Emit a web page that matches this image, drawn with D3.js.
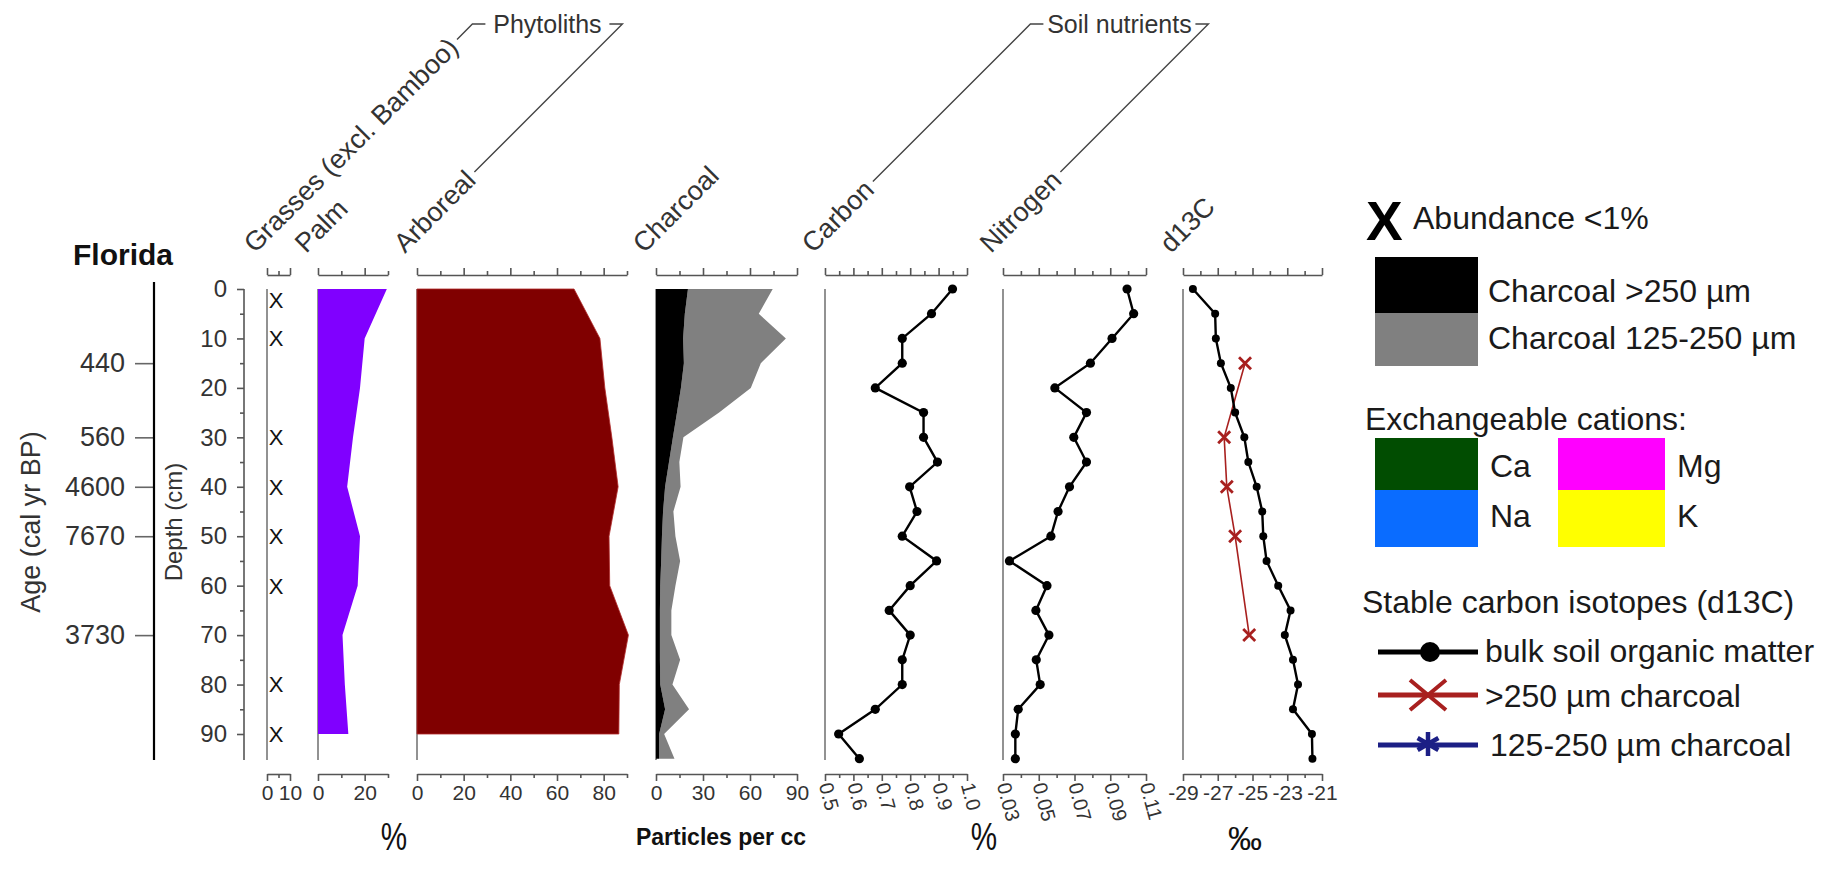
<!DOCTYPE html>
<html><head><meta charset="utf-8">
<script src="https://cdn.jsdelivr.net/npm/d3@7"></script>
<style>
body{margin:0;background:#fff}
svg{display:block;font-family:"Liberation Sans",Arial,Helvetica,sans-serif}
</style>
</head><body>
<script>
// ---------------- DATA ----------------
const sampleDepths = [0,5,10,15,20,25,30,35,40,45,50,55,60,65,70,75,80,85,90,95];
const phytoDepths  = [0,10,20,30,40,50,60,70,80,90];
const palmPct      = [29.5,20,18,15,12.5,18,17,10.5,11.5,13];
const arborealPct  = [67.3,78.4,80.5,83.5,86.2,82.3,82.6,90.6,86.7,86.5];
const grassTraceDepths = [0,10,30,40,50,60,80,90];
const charcoalLarge = [20.4,18.4,17.3,17.8,15.9,13.4,10.8,8.3,5.8,4.5,3.8,3.3,2.7,2.5,2.5,2.5,2.7,5.8,2.0,2.0];
const charcoalSmall = [54.1,47.2,65.6,49.1,44.6,26.9,6.7,6.6,9.9,6.6,8.6,12.1,9.7,7.3,7.3,12.9,7.8,15.3,3.2,9.8];
const carbonPct   = [0.949,0.875,0.772,0.772,0.677,0.847,0.847,0.896,0.798,0.824,0.772,0.893,0.800,0.726,0.800,0.772,0.772,0.677,0.548,0.621];
const nitrogenPct = [0.0994,0.1031,0.0910,0.0789,0.0590,0.0767,0.0696,0.0767,0.0672,0.0608,0.0568,0.0336,0.0546,0.0484,0.0557,0.0486,0.0508,0.0385,0.0369,0.0369];
const d13cBulk    = [-28.43,-27.15,-27.11,-26.82,-26.25,-26.00,-25.47,-25.24,-24.76,-24.44,-24.38,-24.19,-23.52,-22.81,-23.14,-22.67,-22.38,-22.67,-21.58,-21.55];
const d13cCharDepths = [15,30,40,50,70];
const d13cChar       = [-25.43,-26.63,-26.48,-26.00,-25.19];
const ageDepths = [15,30,40,50,70];
const ageLabels = ["440","560","4600","7670","3730"];
const depthTicks = [0,10,20,30,40,50,60,70,80,90];
const depthMinor = [5,15,25,35,45,55,65,75,85];
const panelTitles = ["Grasses (excl. Bamboo)","Palm","Arboreal","Charcoal","Carbon","Nitrogen","d13C"];

// ---------------- LAYOUT ----------------
const W = 1843, H = 869;
const TOP_Y = 275, BOT_Y = 774, PLOT_BOT = 760;
const svg = d3.select("body").append("svg").attr("width", W).attr("height", H);
const Y = d3.scaleLinear().domain([0, 90]).range([289, 734]);

const P = {
  grass:    {x: d3.scaleLinear().domain([0,10]).range([267,290]),  minor:[5], major:[0,10], fmt:d=>d},
  palm:     {x: d3.scaleLinear().domain([0,30]).range([318,388]),  minor:[10,30], major:[0,20], fmt:d=>d},
  arboreal: {x: d3.scaleLinear().domain([0,90]).range([417,627]),  minor:[10,30,50,70,90], major:[0,20,40,60,80], fmt:d=>d},
  charcoal: {x: d3.scaleLinear().domain([0,90]).range([656,797]),  minor:[15,45,75], major:[0,30,60,90], fmt:d=>d},
  carbon:   {x: d3.scaleLinear().domain([0.5,1.0]).range([825,967]), minor:[0.55,0.65,0.75,0.85,0.95], major:[0.5,0.6,0.7,0.8,0.9,1.0], fmt:d3.format(".1f"), rot:true},
  nitrogen: {x: d3.scaleLinear().domain([0.03,0.11]).range([1003,1146]), minor:[0.04,0.06,0.08,0.10], major:[0.03,0.05,0.07,0.09,0.11], fmt:d3.format(".2f"), rot:true},
  d13c:     {x: d3.scaleLinear().domain([-29,-21]).range([1183,1322]), minor:[-28,-26,-24,-22], major:[-29,-27,-25,-23,-21], fmt:d=>d}
};
const order = ["grass","palm","arboreal","charcoal","carbon","nitrogen","d13c"];
const AXC = "#555", TXC = "#333";

// ---------------- AXES per panel ----------------
order.forEach(k => {
  const p = P[k];
  const gt = svg.append("g").attr("transform", `translate(0,${TOP_Y})`);
  gt.call(d3.axisTop(p.x).tickValues(p.minor).tickSize(4).tickSizeOuter(0).tickFormat(""));
  const gt2 = svg.append("g").attr("transform", `translate(0,${TOP_Y})`);
  gt2.call(d3.axisTop(p.x).tickValues(p.major).tickSize(7).tickSizeOuter(0).tickFormat(""));
  gt2.select(".domain").remove();
  const gb = svg.append("g").attr("transform", `translate(0,${BOT_Y})`);
  gb.call(d3.axisBottom(p.x).tickValues(p.minor).tickSize(4).tickSizeOuter(0).tickFormat(""));
  const gb2 = svg.append("g").attr("transform", `translate(0,${BOT_Y})`);
  gb2.call(d3.axisBottom(p.x).tickValues(p.major).tickSize(7).tickSizeOuter(0).tickFormat(p.fmt).tickPadding(4));
  gb2.select(".domain").remove();
  [gt,gt2,gb,gb2].forEach(g => g.selectAll("path,line").attr("stroke", AXC).attr("stroke-width", 1.6));
  gb2.selectAll("text").attr("fill", TXC).attr("font-size", 21).attr("font-family", null);
  if (p.rot) {
    gb2.selectAll("text").attr("x", 0).attr("y", 0).attr("dy", "0.35em")
      .attr("text-anchor", "start").attr("font-size", 20)
      .attr("transform", "translate(0,9) rotate(75)");
  }
  svg.append("line").attr("x1", p.x.range()[0]).attr("x2", p.x.range()[0])
    .attr("y1", Y(0)).attr("y2", PLOT_BOT).attr("stroke", "#777").attr("stroke-width", 1.6);
});

// ---------------- PHYTOLITHS ----------------
const palmData = phytoDepths.map((d,i)=>({d, v: palmPct[i]}));
svg.append("path").datum(palmData).attr("fill", "#8000ff")
  .attr("d", d3.area().y(d=>Y(d.d)).x0(P.palm.x(0)).x1(d=>P.palm.x(d.v)));
const arbData = phytoDepths.map((d,i)=>({d, v: arborealPct[i]}));
svg.append("path").datum(arbData).attr("fill", "#800000").attr("stroke","#b02a2a").attr("stroke-width",0.8)
  .attr("d", d3.area().y(d=>Y(d.d)).x0(P.arboreal.x(0)).x1(d=>P.arboreal.x(d.v)));
svg.append("g").selectAll("text").data(grassTraceDepths).join("text")
  .attr("x", P.grass.x(0) + 9).attr("y", d => Math.max(Y(d), Y(0) + 11))
  .attr("dy", "0.36em").attr("text-anchor", "middle").attr("font-size", 22).attr("fill", "#111")
  .text("X");

// ---------------- CHARCOAL (stacked) ----------------
const charRows = sampleDepths.map((d,i)=>({depth:d, large: charcoalLarge[i], small: charcoalSmall[i]}));
const stack = d3.stack().keys(["large","small"])(charRows);
const charColors = {large:"#000000", small:"#808080"};
stack.slice().reverse().forEach(s => {
  svg.append("path").datum(s).attr("fill", charColors[s.key])
    .attr("d", d3.area().y(d=>Y(d.data.depth)).x0(d=>P.charcoal.x(d[0])).x1(d=>P.charcoal.x(d[1])));
});

// ---------------- LINE PANELS ----------------
function linePanel(scale, depths, vals, color, r, sw) {
  const data = depths.map((d,i)=>({d, v: vals[i]}));
  svg.append("path").datum(data).attr("fill","none").attr("stroke", color).attr("stroke-width", sw)
    .attr("d", d3.line().x(d=>scale(d.v)).y(d=>Y(d.d)));
  svg.append("g").selectAll("circle").data(data).join("circle")
    .attr("cx", d=>scale(d.v)).attr("cy", d=>Y(d.d)).attr("r", r).attr("fill", color);
}
linePanel(P.carbon.x, sampleDepths, carbonPct, "#000", 4.6, 2.4);
linePanel(P.nitrogen.x, sampleDepths, nitrogenPct, "#000", 4.6, 2.4);

const RED = "#a8201f";
const charIso = d13cCharDepths.map((d,i)=>({d, v: d13cChar[i]}));
svg.append("path").datum(charIso).attr("fill","none").attr("stroke", RED).attr("stroke-width", 1.6)
  .attr("d", d3.line().x(d=>P.d13c.x(d.v)).y(d=>Y(d.d)));
svg.append("g").selectAll("path").data(charIso).join("path")
  .attr("transform", d=>`translate(${P.d13c.x(d.v)},${Y(d.d)})`)
  .attr("d", "M-6,-6L6,6M-6,6L6,-6").attr("stroke", RED).attr("stroke-width", 2.8);
linePanel(P.d13c.x, sampleDepths, d13cBulk, "#000", 4, 2.4);

// ---------------- DEPTH & AGE AXES ----------------
const gd = svg.append("g").attr("transform", "translate(244,0)");
gd.call(d3.axisLeft(Y).tickValues(depthTicks).tickSize(7).tickPadding(10));
gd.select(".domain").remove();
gd.selectAll("text").attr("font-size", 24).attr("fill", TXC).attr("font-family", null);
gd.selectAll("line").attr("stroke", AXC).attr("stroke-width", 1.6);
const gdm = svg.append("g").attr("transform", "translate(244,0)");
gdm.call(d3.axisLeft(Y).tickValues(depthMinor).tickSize(4).tickFormat(""));
gdm.select(".domain").remove();
gdm.selectAll("line").attr("stroke", AXC).attr("stroke-width", 1.6);
svg.append("line").attr("x1",244).attr("x2",244).attr("y1",Y(0)).attr("y2",PLOT_BOT)
  .attr("stroke", AXC).attr("stroke-width", 1.6);

const ga = svg.append("g").attr("transform", "translate(154,0)");
ga.call(d3.axisLeft(Y).tickValues(ageDepths).tickFormat((d,i)=>ageLabels[i]).tickSize(19).tickPadding(10));
ga.select(".domain").remove();
ga.selectAll("line").attr("stroke", "#666").attr("stroke-width", 1.6);
ga.selectAll("text").attr("font-size", 27).attr("fill", TXC).attr("font-family", null);
svg.append("line").attr("x1",154).attr("x2",154).attr("y1",282).attr("y2",PLOT_BOT)
  .attr("stroke","#000").attr("stroke-width",2.2);

svg.append("text").attr("transform","translate(40,522) rotate(-90)").attr("text-anchor","middle")
  .attr("font-size",27).attr("fill",TXC).text("Age (cal yr BP)");
svg.append("text").attr("transform","translate(182,522) rotate(-90)").attr("text-anchor","middle")
  .attr("font-size",24).attr("fill",TXC).text("Depth (cm)");
svg.append("text").attr("x",73).attr("y",265).attr("font-size",30).attr("font-weight","bold")
  .attr("fill","#111").text("Florida");

// ---------------- PANEL TITLES + GROUP LEADERS ----------------
const TFS = 27;
const u = [Math.SQRT1_2, -Math.SQRT1_2], up = [-Math.SQRT1_2, -Math.SQRT1_2];
const titleInfo = {};
order.forEach((k,i) => {
  const ax = P[k].x.range()[0] - 12, ay = 254;
  const t = svg.append("text").attr("transform", `translate(${ax},${ay}) rotate(-45)`)
    .attr("font-size", TFS).attr("fill", TXC).text(panelTitles[i]);
  const len = t.node().getComputedTextLength();
  titleInfo[k] = {
    ex: ax + (len + 5) * u[0] + 0.33 * TFS * up[0],
    ey: ay + (len + 5) * u[1] + 0.33 * TFS * up[1]
  };
});
const LEAD_Y = 24;
function leader(k, dir) {
  const s = titleInfo[k];
  const tx = s.ex + (s.ey - LEAD_Y);
  const pts = [[s.ex, s.ey], [tx, LEAD_Y], [tx + dir * 13, LEAD_Y]];
  svg.append("path").attr("d", d3.line()(pts)).attr("fill","none").attr("stroke","#444").attr("stroke-width",1.4);
  return tx;
}
const gl = leader("grass", 1), gr = leader("arboreal", -1);
svg.append("text").attr("x", (gl + gr) / 2).attr("y", 33).attr("text-anchor","middle")
  .attr("font-size", 25).attr("fill", TXC).text("Phytoliths");
const sl = leader("carbon", 1), sr = leader("nitrogen", -1);
svg.append("text").attr("x", (sl + sr) / 2).attr("y", 33).attr("text-anchor","middle")
  .attr("font-size", 25).attr("fill", TXC).text("Soil nutrients");

// ---------------- UNIT LABELS ----------------
function unit(x, y, txt, sx, fs) {
  svg.append("text").attr("transform", `translate(${x},${y}) scale(${sx},1)`).attr("text-anchor","middle")
    .attr("font-size",fs).attr("fill","#111").text(txt);
}
unit(394, 850, "%", 0.78, 38);
unit(984, 850, "%", 0.78, 38);
unit(1245, 850, "‰", 1.0, 34);
svg.append("text").attr("x",721).attr("y",845).attr("text-anchor","middle").attr("font-size",23)
  .attr("font-weight","bold").attr("fill","#111").text("Particles per cc");

// ---------------- LEGEND ----------------
const LFS = 32, LC = "#1a1a1a";
const L = svg.append("g");
L.append("text").attr("x",1366).attr("y",240).attr("font-size",55).attr("font-weight","bold").attr("fill","#000").text("X");
L.append("text").attr("x",1413).attr("y",229).attr("font-size",LFS).attr("fill",LC).text("Abundance <1%");
const boxes = [
  {x:1375,y:257,w:103,h:56,c:"#000000",label:"Charcoal >250 µm",lx:1488,ly:302},
  {x:1375,y:313,w:103,h:53,c:"#808080",label:"Charcoal 125-250 µm",lx:1488,ly:349},
  {x:1375,y:438,w:103,h:52,c:"#014d01",label:"Ca",lx:1490,ly:477},
  {x:1375,y:490,w:103,h:57,c:"#0a6cff",label:"Na",lx:1490,ly:527},
  {x:1558,y:438,w:107,h:52,c:"#ff00ff",label:"Mg",lx:1677,ly:477},
  {x:1558,y:490,w:107,h:57,c:"#ffff00",label:"K",lx:1677,ly:527}
];
boxes.forEach(b => {
  L.append("rect").attr("x",b.x).attr("y",b.y).attr("width",b.w).attr("height",b.h).attr("fill",b.c);
  L.append("text").attr("x",b.lx).attr("y",b.ly).attr("font-size",LFS).attr("fill",LC).text(b.label);
});
L.append("text").attr("x",1365).attr("y",430).attr("font-size",LFS).attr("fill",LC).text("Exchangeable cations:");
L.append("text").attr("x",1362).attr("y",613).attr("font-size",LFS).attr("fill",LC).text("Stable carbon isotopes (d13C)");
L.append("line").attr("x1",1378).attr("x2",1478).attr("y1",652).attr("y2",652).attr("stroke","#000").attr("stroke-width",5);
L.append("circle").attr("cx",1430).attr("cy",652).attr("r",10).attr("fill","#000");
L.append("text").attr("x",1485).attr("y",662).attr("font-size",LFS).attr("fill",LC).text("bulk soil organic matter");
L.append("line").attr("x1",1378).attr("x2",1478).attr("y1",695).attr("y2",695).attr("stroke",RED).attr("stroke-width",5);
L.append("path").attr("transform","translate(1428,695)").attr("d","M-18,-15L18,15M-18,15L18,-15").attr("stroke",RED).attr("stroke-width",4);
L.append("text").attr("x",1485).attr("y",707).attr("font-size",LFS).attr("fill",LC).text(">250 µm charcoal");
const BLUE = "#1c1f85";
L.append("line").attr("x1",1378).attr("x2",1478).attr("y1",745).attr("y2",745).attr("stroke",BLUE).attr("stroke-width",5);
L.append("path").attr("transform","translate(1428,744)")
  .attr("d","M0,-12L0,12M-10.4,-6L10.4,6M-10.4,6L10.4,-6").attr("stroke",BLUE).attr("stroke-width",4.5);
L.append("text").attr("x",1490).attr("y",756).attr("font-size",LFS).attr("fill",LC).text("125-250 µm charcoal");
</script>
</body></html>
